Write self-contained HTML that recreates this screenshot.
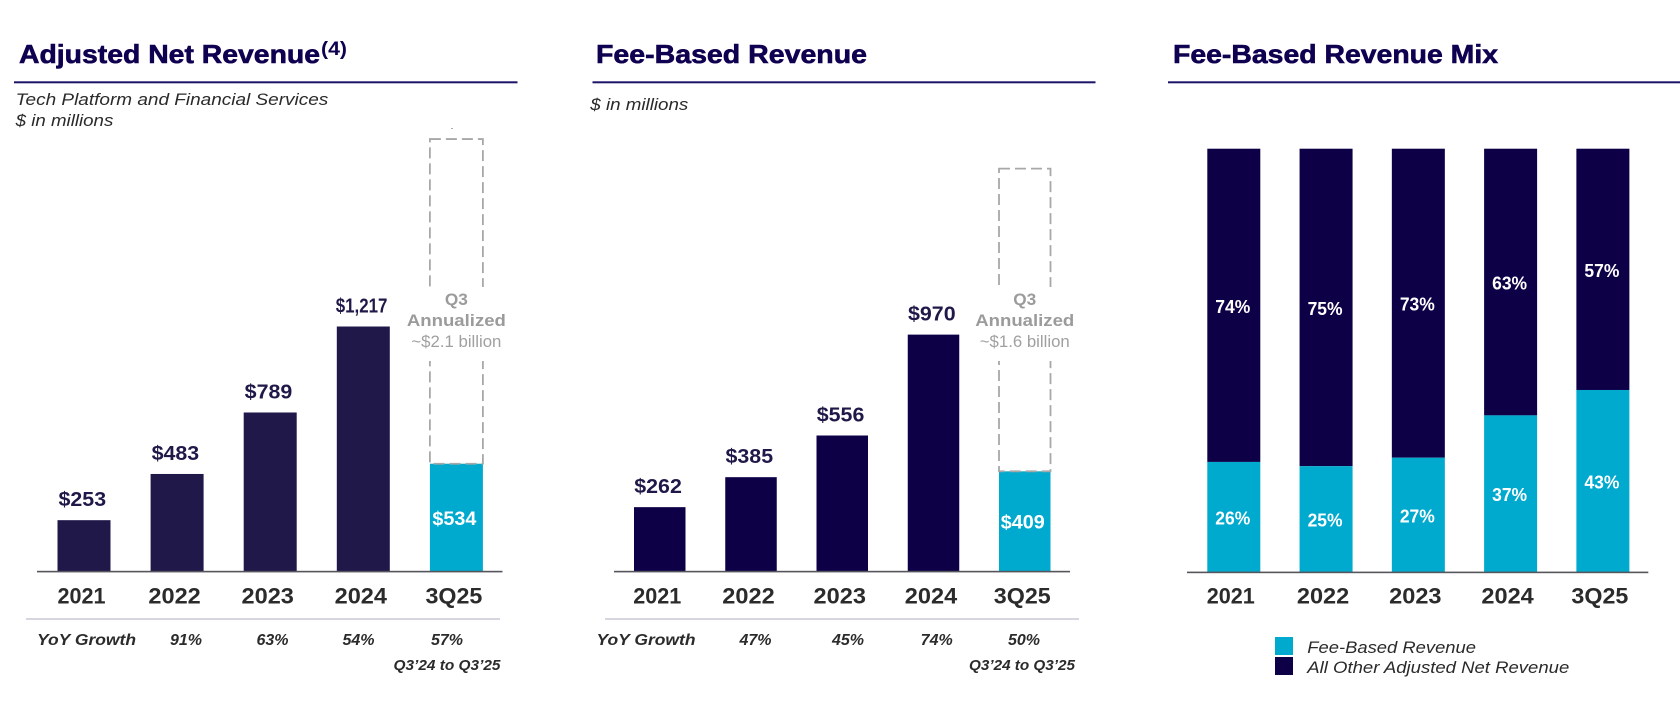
<!DOCTYPE html>
<html lang="en">
<head>
<meta charset="utf-8">
<title>Revenue charts</title>
<style>
html,body{margin:0;padding:0;background:#fff;width:1680px;height:702px;overflow:hidden}
svg{display:block;font-family:"Liberation Sans",sans-serif}
.title{font-size:26px;font-weight:700;fill:#0f0050;stroke:#0f0050;stroke-width:.6px}
.sub{font-size:17px;font-style:italic;fill:#2a2a2a}
.yoy{font-size:16px;font-weight:700;font-style:italic;fill:#2b2b2b;text-anchor:middle}
.per{font-size:14.5px;font-weight:700;font-style:italic;fill:#2b2b2b;text-anchor:middle}
.legend{font-size:17px;font-style:italic;fill:#2a2a2a}
</style>
</head>
<body>
<svg id="chart" width="1680" height="702" viewBox="0 0 1680 702" xmlns="http://www.w3.org/2000/svg">
  <rect width="1680" height="702" fill="#fff"/>

  <text class="title" x="19" y="63" textLength="301" lengthAdjust="spacingAndGlyphs">Adjusted Net Revenue</text>
  <text x="321" y="55" font-size="19" font-weight="700" fill="#0f0050" textLength="26" lengthAdjust="spacingAndGlyphs">(4)</text>
  <rect x="14" y="81.3" width="503.5" height="2" fill="#1c1468"/>
  <text class="sub" x="15.7" y="105" textLength="312.6" lengthAdjust="spacingAndGlyphs">Tech Platform and Financial Services</text>
  <text class="sub" x="15.7" y="126" textLength="97.6" lengthAdjust="spacingAndGlyphs">$ in millions</text>
  <rect x="451" y="128" width="2" height="1" fill="#aaa"/>

  <text class="title" x="596" y="63" textLength="271" lengthAdjust="spacingAndGlyphs">Fee-Based Revenue</text>
  <rect x="592.5" y="81.3" width="503" height="2" fill="#1c1468"/>
  <text class="sub" x="590.3" y="110" textLength="98" lengthAdjust="spacingAndGlyphs">$ in millions</text>

  <text class="title" x="1173" y="63" textLength="325" lengthAdjust="spacingAndGlyphs">Fee-Based Revenue Mix</text>
  <rect x="1168" y="81.3" width="512" height="2" fill="#1c1468"/>

  <g id="left-plot"></g>
  <g id="mid-plot"></g>
  <g id="mix-plot"></g>

  <rect x="26" y="618" width="474" height="2" fill="#d6d6e0"/>
  <text class="yoy" x="86.5" y="645" textLength="99" lengthAdjust="spacingAndGlyphs">YoY Growth</text>
  <text class="yoy" x="186" y="645">91%</text>
  <text class="yoy" x="272.5" y="645">63%</text>
  <text class="yoy" x="358.5" y="645">54%</text>
  <text class="yoy" x="447" y="645">57%</text>
  <text class="per" x="447" y="670" textLength="107" lengthAdjust="spacingAndGlyphs">Q3’24 to Q3’25</text>

  <rect x="605" y="618" width="474" height="2" fill="#d6d6e0"/>
  <text class="yoy" x="646" y="645" textLength="99" lengthAdjust="spacingAndGlyphs">YoY Growth</text>
  <text class="yoy" x="755.5" y="645">47%</text>
  <text class="yoy" x="848" y="645">45%</text>
  <text class="yoy" x="936.7" y="645">74%</text>
  <text class="yoy" x="1024" y="645">50%</text>
  <text class="per" x="1022" y="670" textLength="106" lengthAdjust="spacingAndGlyphs">Q3’24 to Q3’25</text>

  <rect x="1275" y="637" width="18" height="18" fill="#00a9ce"/>
  <text class="legend" x="1307.3" y="653" textLength="168.7" lengthAdjust="spacingAndGlyphs">Fee-Based Revenue</text>
  <rect x="1275" y="657" width="18" height="18" fill="#0d0047"/>
  <text class="legend" x="1307.3" y="673" textLength="262" lengthAdjust="spacingAndGlyphs">All Other Adjusted Net Revenue</text>
</svg>

<script>
const categories = ['2021', '2022', '2023', '2024', '3Q25'];
const adjustedRevenue = [253, 483, 789, 1217, 534];
const adjustedAnnualized = 2150;
const feeRevenue = [262, 385, 556, 970, 409];
const feeAnnualized = 1651;
const feeMixShare = [26, 25, 27, 37, 43];
const otherMixShare = [74, 75, 73, 63, 57];

const SVG_NS = 'http://www.w3.org/2000/svg';
const BASE = 571;
const TEAL = '#00a9ce';

function textWidth(str, size, one) {
  let w = 0;
  for (const c of str) {
    if (c === '1') w += one;
    else if (c === ',') w += 0.2;
    else if (c === 'Q') w += 0.8;
    else w += 0.595;
  }
  return w * size;
}

function addRect(parent, name, x, y, w, h, fill) {
  const el = document.createElementNS(SVG_NS, 'rect');
  
  
  el.setAttribute('x', x);
  el.setAttribute('y', y);
  el.setAttribute('width', w);
  el.setAttribute('height', h);
  el.setAttribute('fill', fill);
  parent.appendChild(el);
  return el;
}

function addText(parent, name, str, cx, y, size, fill, weight, len) {
  const el = document.createElementNS(SVG_NS, 'text');
  
  
  el.setAttribute('x', cx);
  el.setAttribute('y', y);
  el.setAttribute('font-size', size);
  el.setAttribute('font-weight', weight);
  el.setAttribute('fill', fill);
  el.setAttribute('text-anchor', 'middle');
  if (len) {
    el.setAttribute('textLength', len);
    el.setAttribute('lengthAdjust', 'spacingAndGlyphs');
  }
  el.textContent = str;
  parent.appendChild(el);
  return el;
}

function money(v) {
  return '$' + v.toLocaleString('en-US');
}

function drawRevenue(id, prefix, values, annualized, opts) {
  const g = document.getElementById(id);
  const xPos = i => opts.x0 + i * opts.step;
  const yPos = v => BASE - v * opts.scale;
  const last = values.length - 1;

  values.forEach((v, i) => {
    const fill = i === last ? TEAL : opts.color;
    addRect(g, prefix + '-bar-' + categories[i].toLowerCase(), xPos(i), yPos(v), opts.w, BASE - yPos(v), fill);
    const cx = xPos(i) + opts.w / 2;
    const label = money(v);
    if (i === last) {
      addText(g, prefix + '-value-' + categories[i].toLowerCase(), label, cx - 2, (yPos(v) + BASE) / 2 + 7.5, 19, '#fff', 700, 44);
    } else {
      addText(g, prefix + '-value-' + categories[i].toLowerCase(), label, cx - 1.7, yPos(v) - 14, 20, '#201848', 700, textWidth(label, 20, 0.3));
    }
    addText(g, prefix + '-tick-' + categories[i].toLowerCase(), categories[i], cx - 2.5, 603.5, 22, '#2b2b2b', 700, textWidth(categories[i], 22, 0.4));
  });

  const dash = document.createElementNS(SVG_NS, 'rect');
  
  
  dash.setAttribute('x', xPos(last));
  dash.setAttribute('y', yPos(annualized));
  dash.setAttribute('width', opts.w);
  dash.setAttribute('height', yPos(values[last]) - yPos(annualized));
  dash.setAttribute('fill', 'none');
  dash.setAttribute('stroke', '#a8a8a8');
  dash.setAttribute('stroke-width', '1.8');
  dash.setAttribute('stroke-dasharray', '11 5');
  g.appendChild(dash);

  addRect(g, prefix + '-annualized-gap', xPos(last) - 3, 287, opts.w + 6, 74, '#fff');

  const cx = xPos(last) + opts.w / 2;
  addText(g, prefix + '-annualized-q3', 'Q3', cx, 305, 17, '#9b9b9b', 700, 23);
  addText(g, prefix + '-annualized-label', 'Annualized', cx, 326, 17, '#9b9b9b', 700, 99);
  addText(g, prefix + '-annualized-amount', opts.note, cx, 347, 17, '#a0a0a0', 400, 90);

  addRect(g, prefix + '-axis', opts.axisX, BASE - 0.2, opts.axisW, 1.6, '#55555c');
}

function drawMix() {
  const g = document.getElementById('mix-plot');
  const x0 = 1207.3, step = 92.27, w = 53, base = 572, unit = 4.233;
  const xPos = i => x0 + i * step;
  const yPos = v => base - v * unit;
  categories.forEach((c, i) => {
    const fee = feeMixShare[i];
    const other = otherMixShare[i];
    const key = c.toLowerCase();
    const cx = xPos(i) + w / 2;
    addRect(g, 'mix-other-bar-' + key, xPos(i), yPos(fee + other), w, yPos(fee) - yPos(fee + other), '#0d0047');
    addRect(g, 'mix-fee-bar-' + key, xPos(i), yPos(fee), w, base - yPos(fee), TEAL);
    addText(g, 'mix-other-label-' + key, other + '%', cx - 1, (yPos(fee + other) + yPos(fee)) / 2 + 7.5, 18, '#fff', 700, 35);
    addText(g, 'mix-fee-label-' + key, fee + '%', cx - 1, (yPos(fee) + base) / 2 + 7.5, 18, '#fff', 700, 35);
    addText(g, 'mix-tick-' + key, c, cx - 3, 603.5, 22, '#2b2b2b', 700, textWidth(c, 22, 0.4));
  });
  addRect(g, 'mix-axis', 1187, base - 0.4, 461.3, 1.6, '#55555c');
}

drawRevenue('left-plot', 'adjusted', adjustedRevenue, adjustedAnnualized, {
  x0: 57.5, step: 93.1, w: 53, scale: 0.2009, color: '#201848',
  axisX: 37, axisW: 465.5, note: '~$2.1 billion'
});
drawRevenue('mid-plot', 'fee', feeRevenue, feeAnnualized, {
  x0: 634, step: 91.25, w: 51.5, scale: 0.2437, color: '#0d0047',
  axisX: 614, axisW: 456, note: '~$1.6 billion'
});
drawMix();
</script>
</body>
</html>
